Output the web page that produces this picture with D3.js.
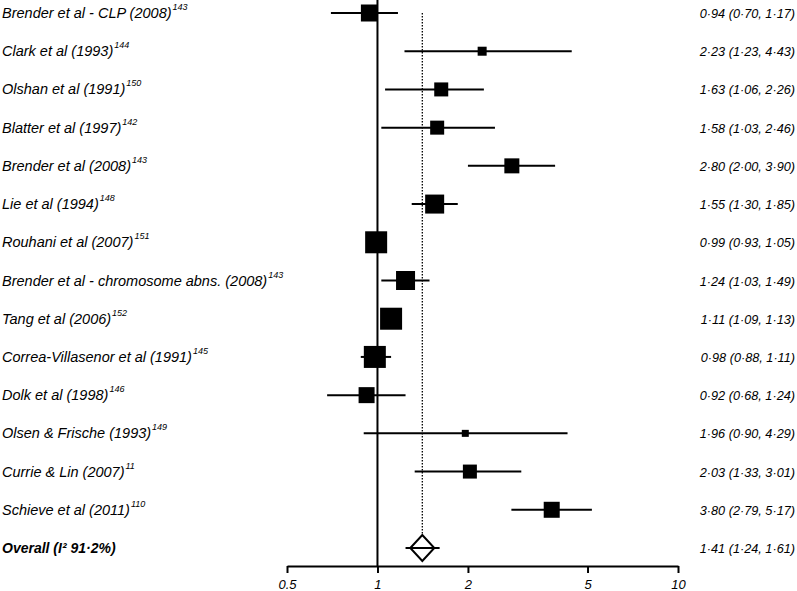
<!DOCTYPE html>
<html><head><meta charset="utf-8">
<script src="https://cdn.jsdelivr.net/npm/d3@7"></script>
<style>body{margin:0;background:#fff}svg{display:block}text{font-family:"Liberation Sans",Arial,sans-serif;font-style:italic;fill:#000}</style>
</head><body><svg id="c" width="797" height="591"></svg>
<script>
const studies = ["Brender et al - CLP (2008)","Clark et al (1993)","Olshan et al (1991)","Blatter et al (1997)","Brender et al (2008)","Lie et al (1994)","Rouhani et al (2007)","Brender et al - chromosome abns. (2008)","Tang et al (2006)","Correa-Villasenor et al (1991)","Dolk et al (1998)","Olsen & Frische (1993)","Currie & Lin (2007)","Schieve et al (2011)"];
const refs = ["143","144","150","142","143","148","151","143","152","145","146","149","11","110"];
const est = [0.94,2.23,1.63,1.58,2.80,1.55,0.99,1.24,1.11,0.98,0.92,1.96,2.03,3.80];
const lo  = [0.70,1.23,1.06,1.03,2.00,1.30,0.93,1.03,1.09,0.88,0.68,0.90,1.33,2.79];
const hi  = [1.17,4.43,2.26,2.46,3.90,1.85,1.05,1.49,1.13,1.11,1.24,4.29,3.01,5.17];
const weights = [17,9,14,14,15,19,22,19,22,22,16,7,14,16]; // relative box sizes
const overall = {label:"Overall (I² 91·2%)", est:1.41, lo:1.24, hi:1.61};
const ticks = [0.5,1,2,5,10];

const svg = d3.select("#c");
const x = d3.scaleLog().domain([0.5,10]).range([287,678]);
const rows = d3.range(studies.length+1);
const y = d3.scalePoint().domain(rows).range([13,548]);
const fmt = v => d3.format(".2f")(v).replace(".","·");

svg.append("line").attr("x1",x(1)).attr("x2",x(1)).attr("y1",0).attr("y2",566)
  .attr("stroke","#000").attr("stroke-width",2);
svg.append("line").attr("x1",x(overall.est)).attr("x2",x(overall.est)).attr("y1",y(0)).attr("y2",y(14)-13)
  .attr("stroke","#000").attr("stroke-width",1.3).attr("stroke-dasharray","1.5,1.5");

const g = svg.append("g");
studies.forEach((s,i)=>{
  const yy = y(i);
  g.append("line").attr("x1",x(lo[i])).attr("x2",x(hi[i])).attr("y1",yy).attr("y2",yy)
    .attr("stroke","#000").attr("stroke-width",2);
  const w = weights[i];
  g.append("rect").attr("x",x(est[i])-w/2).attr("y",yy-w/2).attr("width",w).attr("height",w).attr("fill","#000");
  const t = g.append("text").attr("x",2).attr("y",yy+5).attr("font-size",14.5);
  t.append("tspan").text(s);
  t.append("tspan").attr("font-size",9).attr("dy",-8).attr("dx",1).text(refs[i]);
  g.append("text").attr("x",795).attr("y",yy+5).attr("font-size",12.7).attr("text-anchor","end")
    .text(`${fmt(est[i])} (${fmt(lo[i])}, ${fmt(hi[i])})`);
});
const oy = y(14);
g.append("line").attr("x1",x(overall.lo)).attr("x2",x(overall.hi)).attr("y1",oy).attr("y2",oy)
  .attr("stroke","#000").attr("stroke-width",2);
const cx = x(overall.est);
g.append("path").attr("d",`M${cx-12},${oy}L${cx},${oy-13}L${cx+12},${oy}L${cx},${oy+13}Z`)
  .attr("fill","none").attr("stroke","#000").attr("stroke-width",2);
g.append("text").attr("x",2).attr("y",oy+5).attr("font-size",14).attr("font-weight","bold").text(overall.label);
g.append("text").attr("x",795).attr("y",oy+5).attr("font-size",12.7).attr("text-anchor","end")
  .text(`${fmt(overall.est)} (${fmt(overall.lo)}, ${fmt(overall.hi)})`);

const ax = svg.append("g").attr("transform","translate(0,566)")
  .call(d3.axisBottom(x).tickValues(ticks).tickFormat(d=>String(d)).tickSize(7).tickSizeOuter(0));
ax.select(".domain").attr("stroke-width",2);
ax.selectAll(".tick line").attr("stroke-width",2);
ax.selectAll(".tick text").attr("font-size",13).attr("font-family","Liberation Sans, Arial, sans-serif").attr("font-style","italic").attr("y",23).attr("dy",0);
</script></body></html>
